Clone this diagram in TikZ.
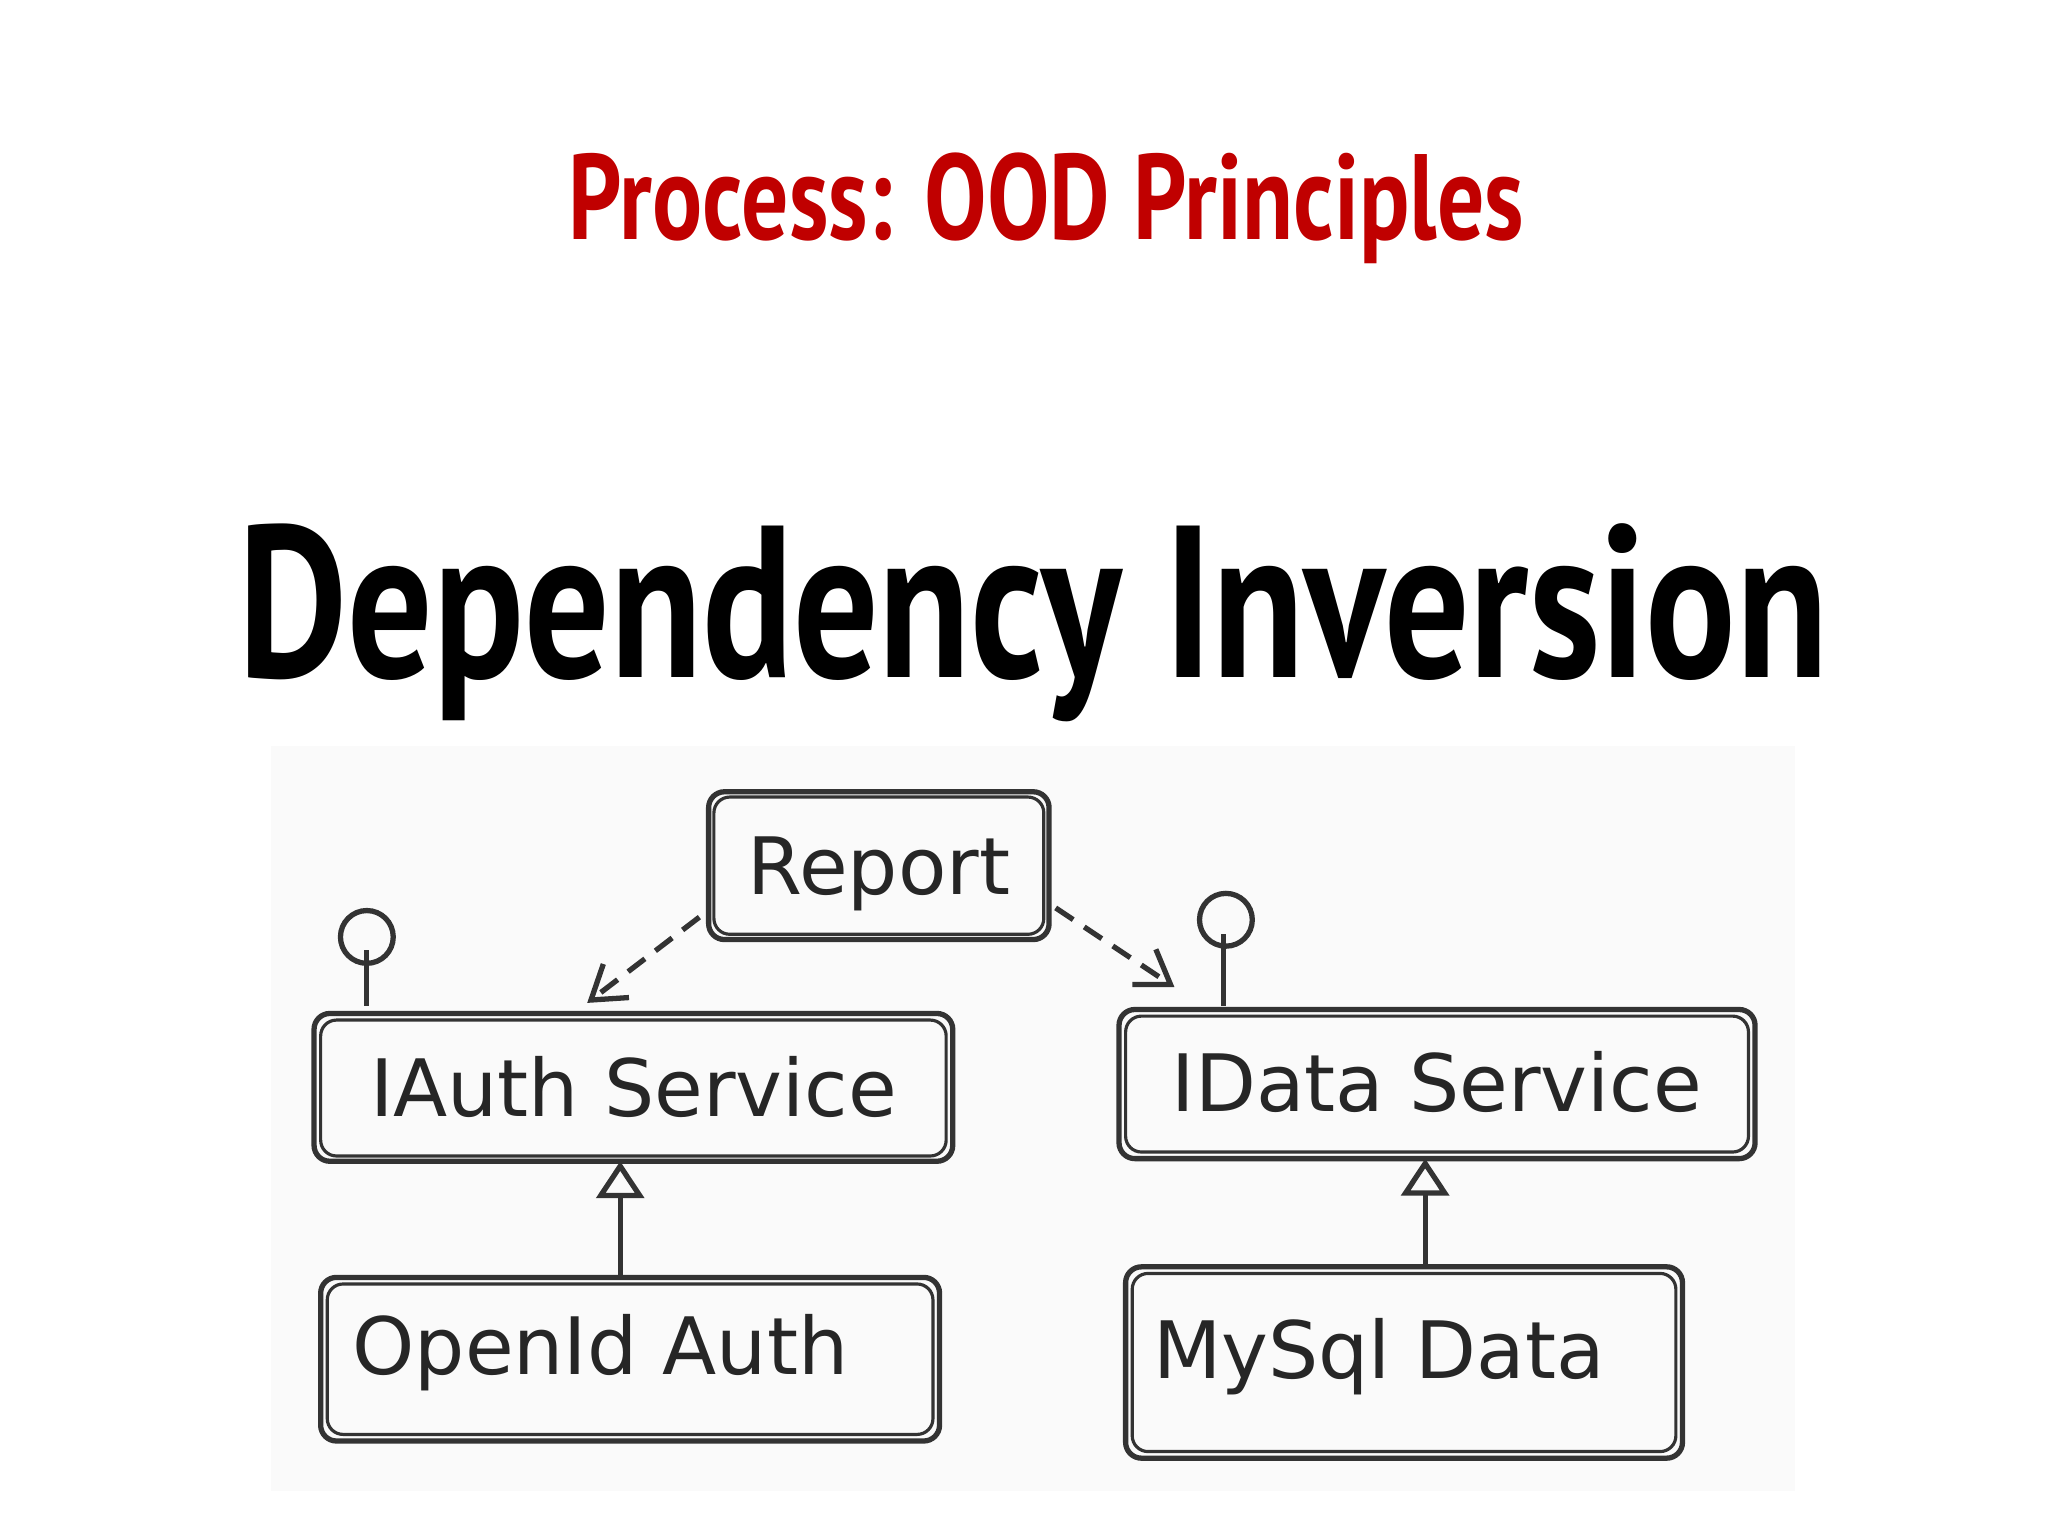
\documentclass[tikz,border=0pt]{standalone}
\usepackage{fontspec}
\setmainfont{PT Sans}
\newfontfamily\hand{DejaVu Sans}
\usetikzlibrary{arrows.meta}
\definecolor{ttl}{HTML}{C00000}
\begin{document}
\begin{tikzpicture}[x=0.5pt,y=-0.5pt,
  sk/.style={draw=black!80,line width=2pt,rounded corners=6pt,inner sep=0pt},
  lbl/.style={font=\hand\fontsize{30}{30}\selectfont,text=black!85},
  dep/.style={draw=black!80,line width=2pt,dash pattern=on 8pt off 5pt,-{Straight Barb[length=12pt,width=16pt]}},
  inh/.style={draw=black!80,line width=2pt,-{Triangle[open,length=14pt,width=18pt]}}]
\useasboundingbox (0,0) rectangle (1552,1164);
\fill[black!2] (205,565) rectangle (1360,1130);
\node[font=\bfseries\fontsize{46}{46}\selectfont,text=ttl,xscale=0.77] (t) at (793,158) {Process: OOD Principles};
\node[font=\bfseries\fontsize{82}{82}\selectfont,xscale=0.78] (h) at (783,472) {Dependency Inversion};
% boxes
\draw[sk] (537,600) rectangle (795,712); \draw[sk,line width=1.2pt] (541,604) rectangle (791,708);
\node[lbl] (rep) at (666,662) {Report};
\draw[sk] (238,768) rectangle (722,880); \draw[sk,line width=1.2pt] (243,773) rectangle (717,876);
\node[lbl] (ia) at (480,824) {IAuth Service};
\draw[sk] (848,765) rectangle (1330,878); \draw[sk,line width=1.2pt] (853,770) rectangle (1325,873);
\node[lbl] (id) at (1089,820) {IData Service};
\draw[sk] (243,968) rectangle (712,1092); \draw[sk,line width=1.2pt] (248,973) rectangle (707,1087);
\node[lbl] (oa) at (455,1025) {OpenId Auth};
\draw[sk] (853,960) rectangle (1275,1105); \draw[sk,line width=1.2pt] (858,965) rectangle (1270,1100);
\node[lbl] (md) at (1045,1028) {MySql Data};
% lollipops
\coordinate (l1a) at (278,762); \coordinate (l1b) at (278,720);
\draw[black!80,line width=2pt] (l1a) -- (l1b);
\node[draw=black!80,line width=2pt,circle,minimum size=20pt,inner sep=0pt] (c1) at (278,710) {};
\coordinate (l2a) at (927,762); \coordinate (l2b) at (927,708);
\draw[black!80,line width=2pt] (l2a) -- (l2b);
\node[draw=black!80,line width=2pt,circle,minimum size=20pt,inner sep=0pt] (c2) at (929,697) {};
% arrows
\coordinate (d1s) at (530,695); \coordinate (d1e) at (445,760);
\coordinate (d2s) at (800,688); \coordinate (d2e) at (890,748);
\draw[dep] (d1s) -- (d1e);
\draw[dep] (d2s) -- (d2e);
\coordinate (i1s) at (470,968); \coordinate (i1e) at (470,880);
\coordinate (i2s) at (1080,960); \coordinate (i2e) at (1080,878);
\draw[inh] (i1s) -- (i1e);
\draw[inh] (i2s) -- (i2e);
\end{tikzpicture}
\end{document}
